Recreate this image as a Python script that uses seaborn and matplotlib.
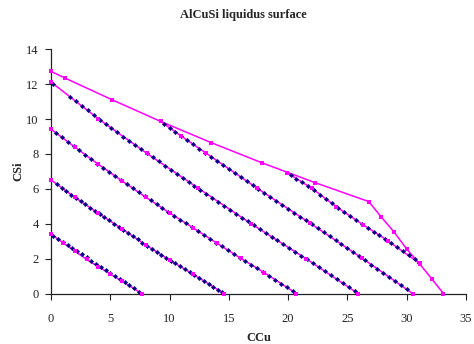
import numpy as np
import pandas as pd
import matplotlib
matplotlib.use('Agg')
import matplotlib.pyplot as plt
import seaborn as sns

# --- Magenta isolines (marker points) ---
l1_x = [0, 1, 2, 3, 4, 5, 6, 7.65]
l1_y = [3.4, 2.92, 2.44, 1.95, 1.54, 1.12, 0.7, 0]
l2_x = [0, 2, 4, 6, 8, 10, 12, 14.6]
l2_y = [6.51, 5.52, 4.6, 3.7, 2.78, 1.92, 1.1, 0]
l3_x = [0, 2, 4, 6, 8, 10, 12, 14, 16, 18, 20.7]
l3_y = [9.42, 8.4, 7.4, 6.45, 5.52, 4.62, 3.76, 2.88, 2.02, 1.19, 0]
l4_x = [0, 4, 8.07, 12.43, 16.9, 21.5, 25.9]
l4_y = [12.12, 10.01, 8.04, 6.03, 3.99, 2.0, 0]
l5_x = [9.26, 10.95, 13.08, 17.4, 21.85, 26.25, 30.5]
l5_y = [9.86, 9.04, 8.04, 6.03, 4.03, 2.02, 0]
l6_x = [19.9, 22.0, 24.05, 26.3, 28.4, 31.1]
l6_y = [6.93, 6.03, 4.98, 3.95, 3.03, 1.72]

# top boundary of the surface
env_x = [0, 1.18, 5.17, 9.26, 13.5, 17.8, 22.25, 26.8, 27.85, 28.95, 30.0, 31.1, 32.1, 33.1]
env_y = [12.73, 12.35, 11.1, 9.86, 8.65, 7.49, 6.36, 5.27, 4.39, 3.51, 2.55, 1.69, 0.85, 0]

# --- Navy data points along the isolines ---
n1_x = [0.2, 0.6, 1.0, 1.4, 1.8, 2.2, 2.6, 3.0, 3.4, 3.8, 4.2, 4.6, 5.0, 5.4, 5.8, 6.2, 6.6, 7.0, 7.4]
n1_y = [3.31, 3.13, 2.96, 2.78, 2.6, 2.42, 2.25, 2.07, 1.89, 1.71, 1.54, 1.36, 1.18, 1.0, 0.82, 0.65, 0.47, 0.29, 0.11]
n2_x = [0.5, 0.9, 1.3, 1.7, 2.1, 2.5, 2.9, 3.3, 3.7, 4.1, 4.5, 4.9, 5.3, 5.7, 6.1, 6.5, 6.9, 7.3,
        7.7, 8.1, 8.5, 8.9, 9.3, 9.7, 10.1, 10.5, 10.9, 11.3, 11.7, 12.1, 12.5, 12.9, 13.3, 13.7, 14.1, 14.4]
n2_y = [6.27, 6.07, 5.87, 5.67, 5.47, 5.29, 5.11, 4.92, 4.74, 4.55, 4.37, 4.19, 4.01, 3.83, 3.65, 3.47, 3.29, 3.1,
        2.92, 2.74, 2.57, 2.4, 2.22, 2.05, 1.88, 1.72, 1.55, 1.39, 1.22, 1.06, 0.89, 0.72, 0.55, 0.38, 0.21, 0.08]
n3_x = [0.4, 0.9, 1.4, 1.9, 2.4, 2.9, 3.4, 3.9, 4.4, 4.9, 5.4, 5.9, 6.4, 6.9, 7.4, 7.9, 8.4, 8.9, 9.4, 9.9, 10.4,
        10.9, 11.4, 11.9, 12.4, 12.9, 13.4, 13.9, 14.4, 14.9, 15.4, 15.9, 16.4, 16.9, 17.4, 17.9, 18.4, 18.9, 19.4, 19.9, 20.4]
n3_y = [9.22, 8.96, 8.71, 8.45, 8.2, 7.95, 7.7, 7.45, 7.21, 6.98, 6.74, 6.5, 6.26, 6.03, 5.8, 5.57, 5.34, 5.12, 4.89, 4.67, 4.45,
        4.23, 4.02, 3.8, 3.58, 3.36, 3.14, 2.92, 2.71, 2.49, 2.28, 2.06, 1.85, 1.65, 1.44, 1.23, 1.01, 0.79, 0.57, 0.35, 0.13]
n4_x = [0.2, 1.6, 2.1, 2.6, 3.1, 3.6, 4.1, 4.6, 5.1, 5.6, 6.1, 6.6, 7.1, 7.6, 8.1, 8.6, 9.1, 9.6, 10.1, 10.6, 11.1, 11.6,
        12.1, 12.6, 13.1, 13.6, 14.1, 14.6, 15.1, 15.6, 16.1, 16.6, 17.1, 17.6, 18.1, 18.6, 19.1, 19.6, 20.1, 20.6,
        21.1, 21.6, 22.1, 22.6, 23.1, 23.6, 24.1, 24.6, 25.1, 25.6]
n4_y = [12.01, 11.28, 11.01, 10.75, 10.49, 10.22, 9.96, 9.72, 9.48, 9.24, 8.99, 8.75, 8.51, 8.27, 8.03, 7.8, 7.57, 7.33,
        7.1, 6.87, 6.64, 6.41, 6.18, 5.95, 5.72, 5.5, 5.27, 5.04, 4.81, 4.58, 4.35, 4.13, 3.9, 3.69, 3.47, 3.26, 3.04,
        2.82, 2.61, 2.39, 2.17, 1.95, 1.73, 1.5, 1.27, 1.05, 0.82, 0.59, 0.36, 0.14]
n5_x = [9.5, 10.0, 10.5, 11.0, 11.5, 12.0, 12.5, 13.0, 13.5, 14.0, 14.5, 15.0, 15.5, 16.0, 16.5, 17.0, 17.5, 18.0,
        18.5, 19.0, 19.5, 20.0, 20.5, 21.0, 21.5, 22.0, 22.5, 23.0, 23.5, 24.0, 24.5, 25.0, 25.5, 26.0, 26.5, 27.0,
        27.5, 28.0, 28.5, 29.0, 29.5, 30.0]
n5_y = [9.74, 9.5, 9.26, 9.02, 8.78, 8.55, 8.31, 8.08, 7.84, 7.61, 7.38, 7.15, 6.91, 6.68, 6.45, 6.22, 5.99, 5.76,
        5.54, 5.31, 5.09, 4.86, 4.64, 4.41, 4.19, 3.96, 3.73, 3.51, 3.28, 3.05, 2.82, 2.59, 2.36, 2.13, 1.9, 1.66,
        1.43, 1.19, 0.95, 0.71, 0.48, 0.24]
n6_x = [20.2, 20.7, 21.2, 21.7, 22.2, 22.7, 23.2, 23.7, 24.2, 24.7, 25.2, 25.7, 26.2, 26.7, 27.2, 27.7, 28.2, 28.7,
        29.2, 29.7, 30.2, 30.7, 31.0]
n6_y = [6.8, 6.59, 6.37, 6.16, 5.93, 5.67, 5.42, 5.16, 4.91, 4.68, 4.45, 4.22, 3.99, 3.77, 3.55, 3.33, 3.12, 2.89,
        2.65, 2.42, 2.19, 1.96, 1.75]

lines = [(l1_x, l1_y), (l2_x, l2_y), (l3_x, l3_y), (l4_x, l4_y), (l5_x, l5_y), (l6_x, l6_y), (env_x, env_y)]
navy = pd.DataFrame({'CCu': n1_x + n2_x + n3_x + n4_x + n5_x + n6_x,
                     'CSi': n1_y + n2_y + n3_y + n4_y + n5_y + n6_y})

# --- Plot ---
sns.set_style('white')
plt.rcParams['font.family'] = ['Liberation Serif', 'DejaVu Serif']

fig = plt.figure(figsize=(4.74, 3.44), dpi=100)
ax = fig.add_axes([0.1076, 0.1468, 0.8755, 0.71])

for lx, ly in lines:
    sns.lineplot(x=lx, y=ly, ax=ax, color='#FF00FF', linewidth=1.1, sort=False, estimator=None)

sns.scatterplot(data=navy, x='CCu', y='CSi', ax=ax, color='#000080', marker='D', s=5,
                edgecolor='#000080', linewidth=0.3, zorder=3, clip_on=False)

for lx, ly in lines:
    sns.scatterplot(x=lx, y=ly, ax=ax, color='#FF00FF', marker='s', s=8, linewidth=0,
                    zorder=4, clip_on=False)

ax.set_xlim(0, 35)
ax.set_ylim(0, 14)
ax.set_xticks(range(0, 36, 5))
ax.set_yticks(range(0, 15, 2))
ax.tick_params(axis='both', direction='out', length=4, width=0.8, labelsize=9,
               bottom=True, left=True, colors='#222222')
ax.tick_params(axis='x', pad=10)
ax.tick_params(axis='y', pad=5)
for side in ['top', 'right']:
    ax.spines[side].set_visible(False)
for side in ['left', 'bottom']:
    ax.spines[side].set_color('#222222')
    ax.spines[side].set_linewidth(0.9)

ax.set_xlabel('CCu', fontsize=9, fontweight='bold', labelpad=5)
ax.set_ylabel('CSi', fontsize=9, fontweight='bold', labelpad=1)
fig.text(0.513, 0.955, 'AlCuSi liquidus surface', ha='center', va='center',
         fontsize=9, fontweight='bold')

fig.savefig('out.png', dpi=100, facecolor='white')
